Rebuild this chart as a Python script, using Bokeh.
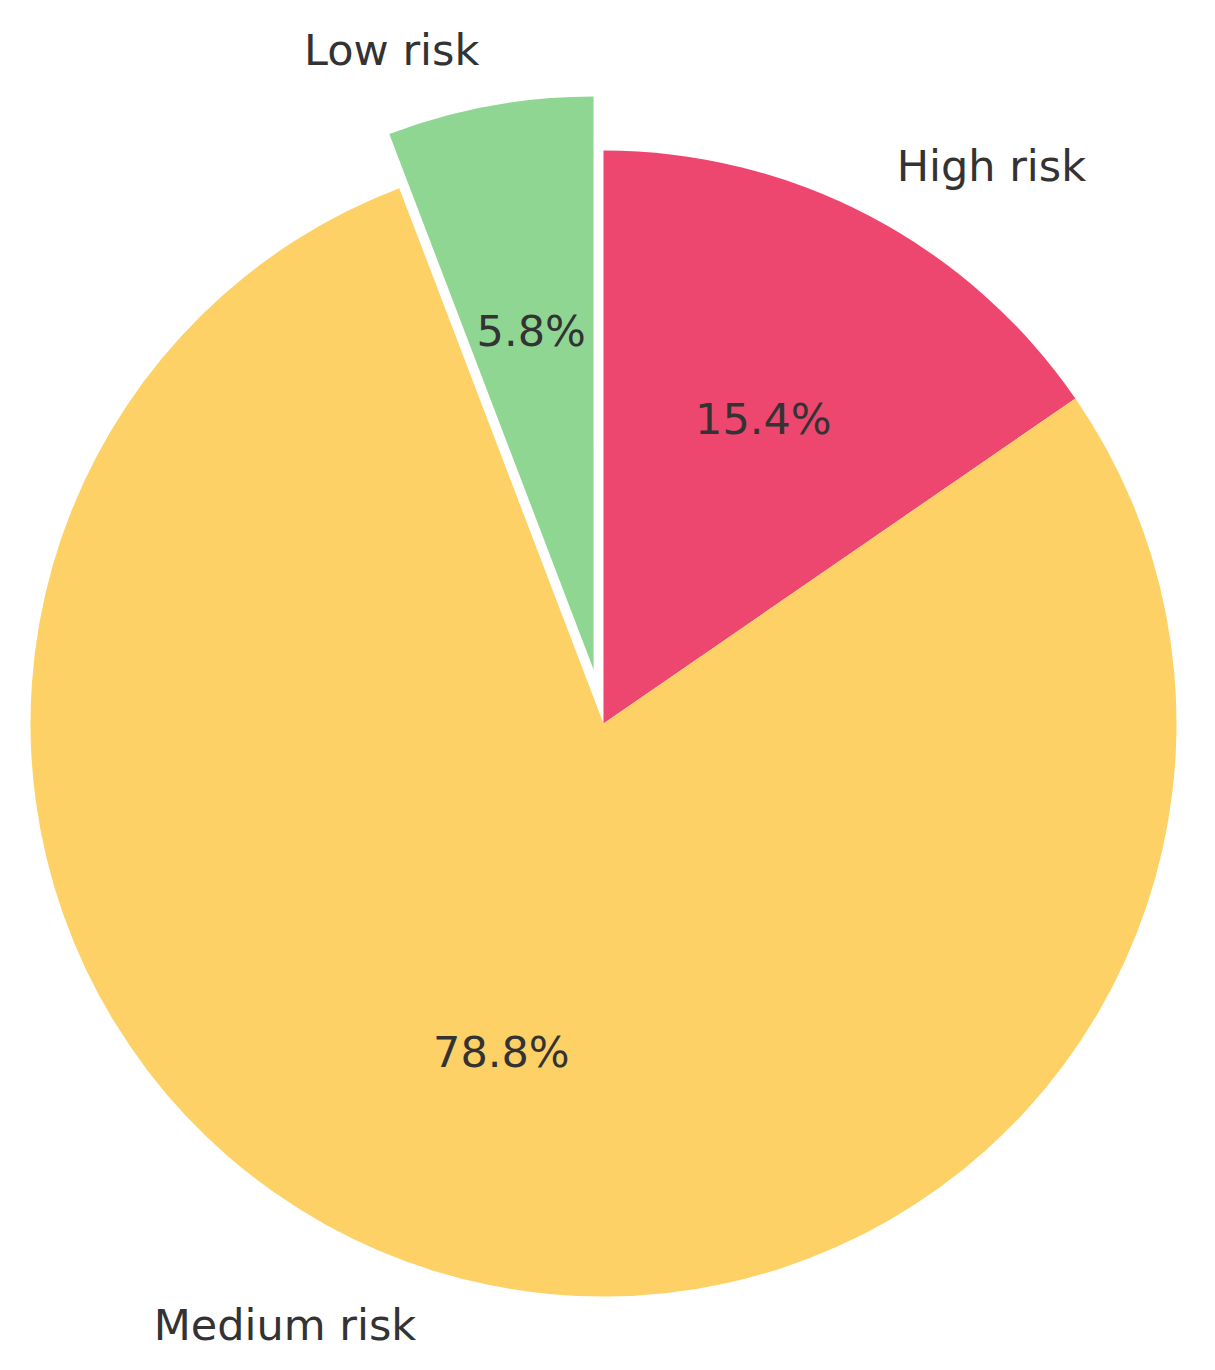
import math
from bokeh.plotting import figure
from bokeh.models import Range1d, ColumnDataSource
from bokeh.core.properties import value
from bokeh.embed import file_html
from bokeh.resources import INLINE

# Data
categories = ["High risk", "Medium risk", "Low risk"]
shares = [15.4, 78.8, 5.8]
colors = ["#EE476F", "#FED166", "#8FD693"]
explode = [0.0, 0.0, 0.096]

# Layout (pixel geometry of the page)
W, H = 1199, 1354
CX, CY, R = 603, 723, 573  # centre and radius in page pixels
OFF = 0  # page offset of the plot canvas

p = figure(width=W, height=H, output_backend="svg", toolbar_location=None,
           x_range=Range1d((OFF - CX) / R, (OFF + W - CX) / R),
           y_range=Range1d(-(OFF + H - CY) / R, (CY - OFF) / R),
           min_border=0)
p.axis.visible = False
p.grid.visible = False
p.outline_line_color = None
p.background_fill_color = "white"
p.border_fill_color = "white"

total = sum(shares)
start = 90.0  # degrees, clockwise
xs, ys, sa, ea = [], [], [], []
lab_x, lab_y, lab_align = [], [], []
pct_x, pct_y, pct_txt = [], [], []
for v, ex in zip(shares, explode):
    sweep = 360.0 * v / total
    end = start - sweep
    mid = math.radians((start + end) / 2)
    ox, oy = ex * math.cos(mid), ex * math.sin(mid)
    xs.append(ox); ys.append(oy)
    sa.append(math.radians(end)); ea.append(math.radians(start))
    lx, ly = ox + 1.1 * math.cos(mid), oy + 1.1 * math.sin(mid)
    lab_x.append(lx); lab_y.append(ly)
    lab_align.append("left" if lx > 0 else "right")
    pct_x.append(ox + 0.6 * math.cos(mid)); pct_y.append(oy + 0.6 * math.sin(mid))
    pct_txt.append(f"{v:.1f}%")
    start = end

src = ColumnDataSource(dict(x=xs, y=ys, sa=sa, ea=ea, color=colors))
p.wedge(x="x", y="y", radius=1.0, start_angle="sa", end_angle="ea",
        direction="anticlock", fill_color="color", line_color=None, source=src)

lsrc = ColumnDataSource(dict(x=lab_x, y=lab_y, t=categories, a=lab_align))
p.text(x="x", y="y", text="t", text_align="a", text_baseline="middle",
       text_font=value("DejaVu Sans"), text_font_size="43px",
       text_color="#333333", source=lsrc)

psrc = ColumnDataSource(dict(x=pct_x, y=pct_y, t=pct_txt))
p.text(x="x", y="y", text="t", text_align="center", text_baseline="middle",
       text_font=value("DejaVu Sans"), text_font_size="43px",
       text_color="#333333", source=psrc)

open("out.html", "w").write(file_html(p, INLINE))
